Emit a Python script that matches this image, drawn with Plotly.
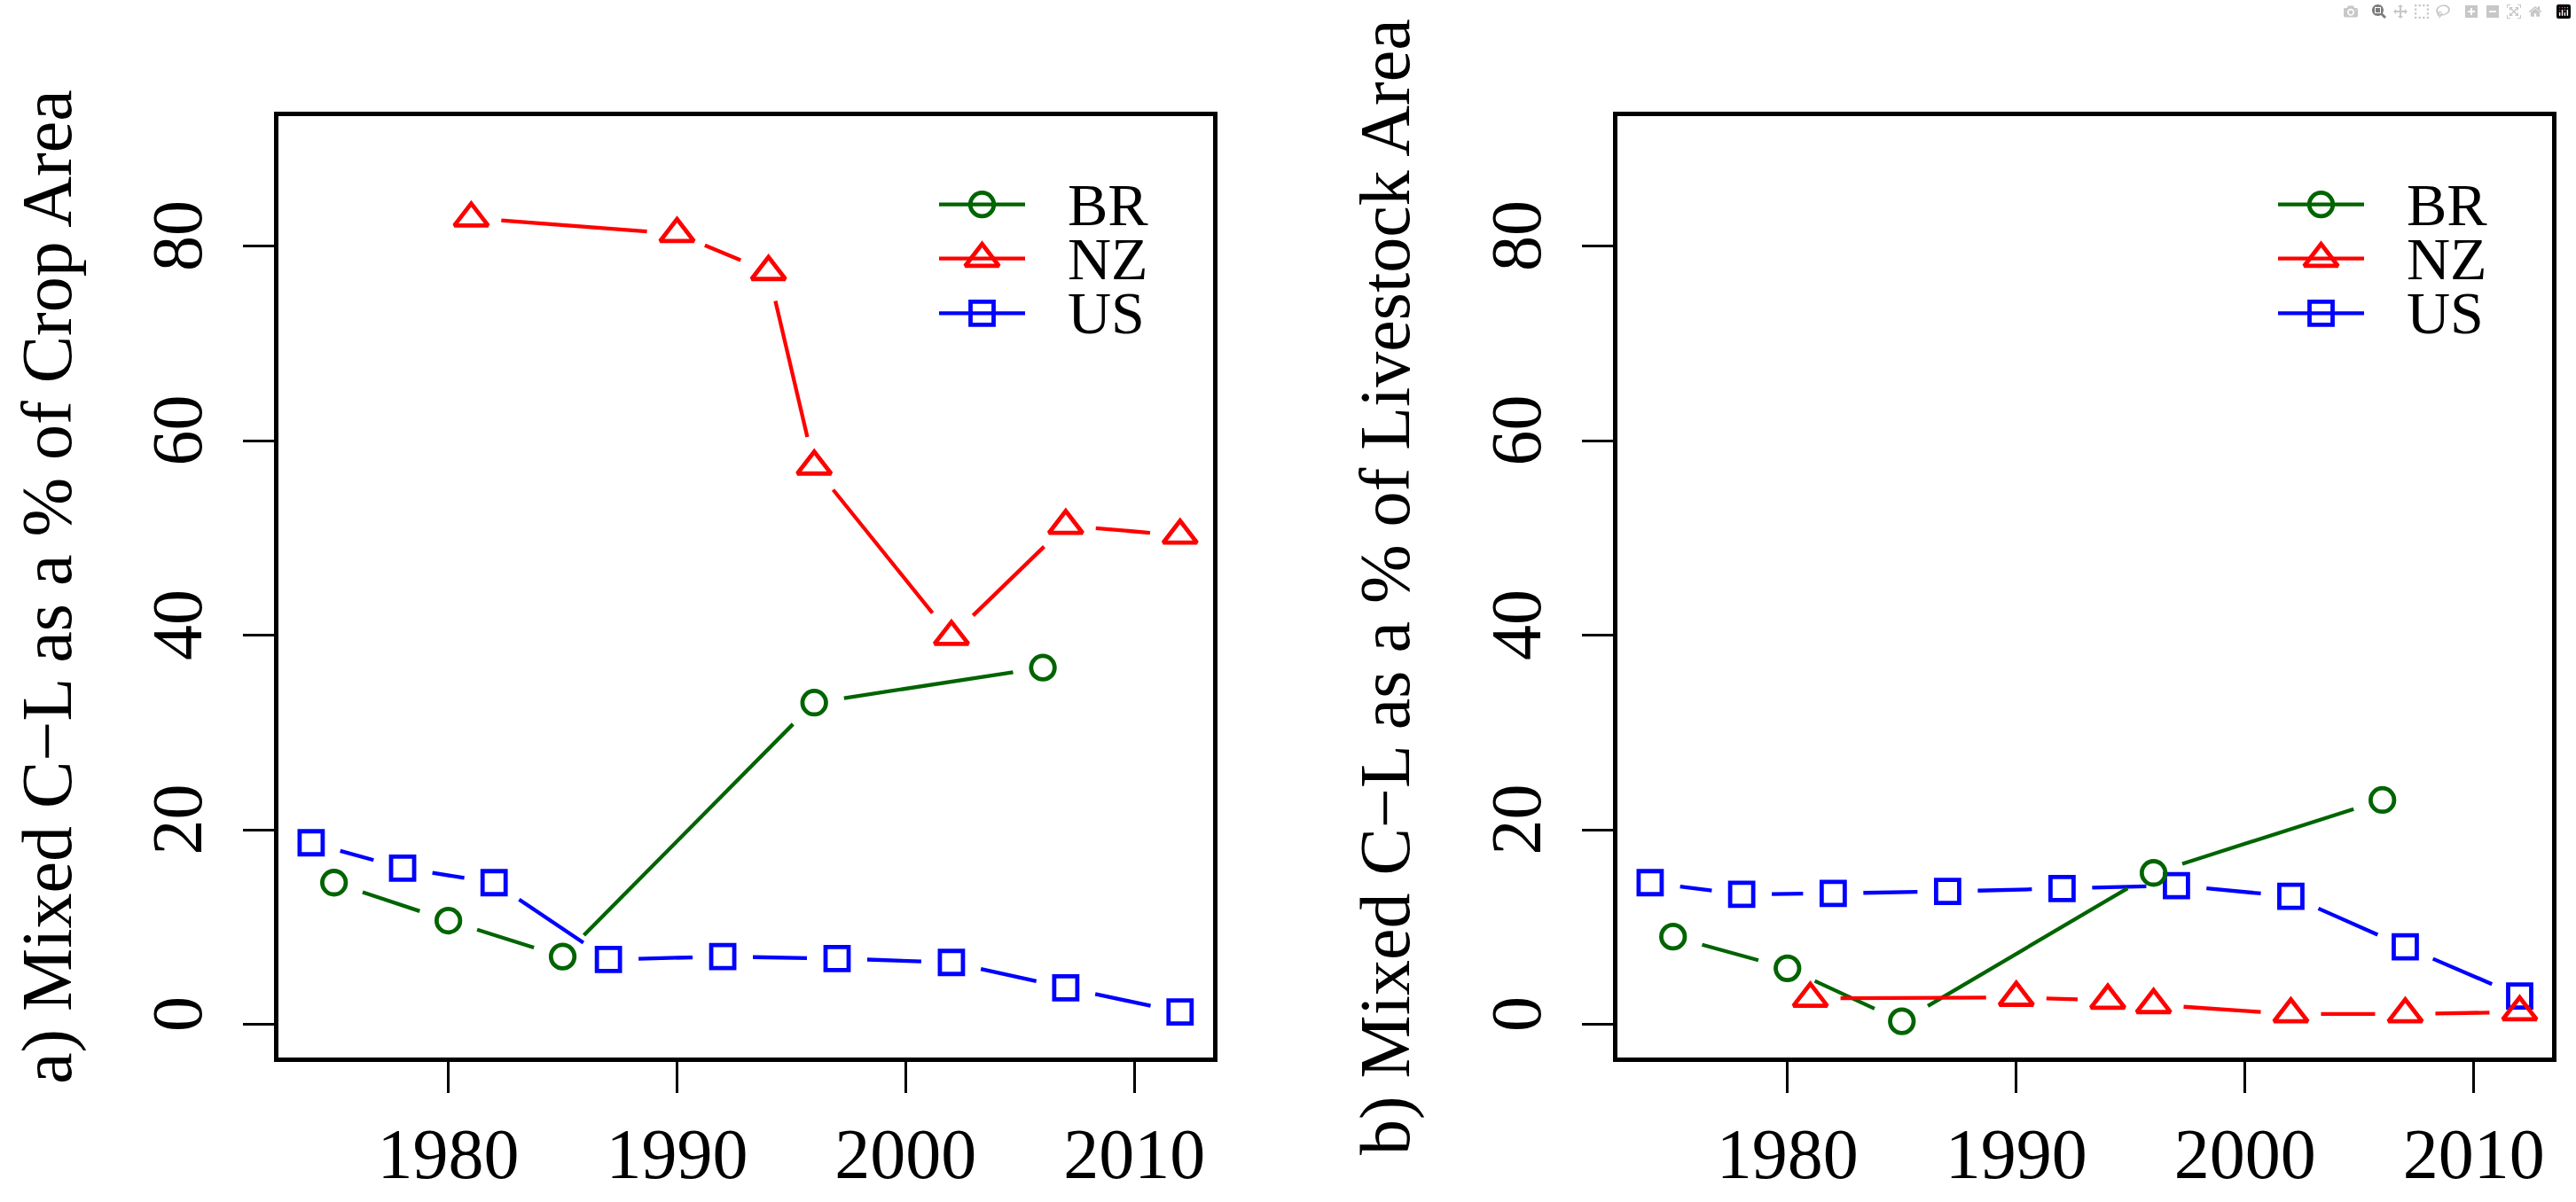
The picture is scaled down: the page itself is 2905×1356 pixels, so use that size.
import math
import plotly.graph_objects as go

# ---------------- data ----------------
SERIES = ["BR", "NZ", "US"]
YEARS_BR = [1975, 1980, 1985, 1996, 2006]
YEARS_NZ = [1981, 1990, 1994, 1996, 2002, 2007, 2012]
YEARS_US = [1974, 1978, 1982, 1987, 1992, 1997, 2002, 2007, 2012]

CROP_BR = [14.6, 10.7, 7.0, 33.1, 36.7]
CROP_NZ = [82.9, 81.3, 77.4, 57.4, 39.9, 51.3, 50.3]
CROP_US = [18.7, 16.1, 14.6, 6.7, 7.0, 6.8, 6.4, 3.8, 1.3]

LIVE_BR = [9.05, 5.8, 0.35, 15.6, 23.1]
LIVE_NZ = [2.7, 2.8, 2.5, 2.05, 1.1, 1.1, 1.3]
LIVE_US = [14.6, 13.4, 13.5, 13.7, 14.0, 14.3, 13.2, 8.0, 2.95]

X_TICKS = [1980, 1990, 2000, 2010]
Y_TICKS = [0, 20, 40, 60, 80]
Y_LIMITS = [0, 90]
Y_TITLES = ["a) Mixed C\u2212L as a % of Crop Area",
            "b) Mixed C\u2212L as a % of Livestock Area"]

# ---------------- style / layout ----------------
W, H = 2905, 1356
FONT = "Liberation Serif"
COLORS = {"BR": "#006400", "NZ": "#FF0000", "US": "#0000FF"}
SYMBOLS = {"BR": "circle-open", "NZ": "triangle-up-open", "US": "square-open"}
SIZES = {"BR": 26.5, "NZ": 33, "US": 26}
LINE_W = 4.3
MARK_W = 4.8
GAP = 34          # px gap between line ends and points (R type="b")
BOX_W = 4.7
# panel boxes (line centres) in pixels
PANEL_X = [(311.7, 1370.0), (1821.7, 2880.7)]
PANEL_Y = (128.7, 1195.5)
LEGEND_DX = [0, 1510]

all_years = YEARS_BR + YEARS_NZ + YEARS_US
xr0, xr1 = min(all_years), max(all_years)
xr = [xr0 - 0.04 * (xr1 - xr0), xr1 + 0.04 * (xr1 - xr0)]
yr = [Y_LIMITS[0] - 0.04 * (Y_LIMITS[1] - Y_LIMITS[0]),
      Y_LIMITS[1] + 0.04 * (Y_LIMITS[1] - Y_LIMITS[0])]

panels = [
    {"BR": (YEARS_BR, CROP_BR), "NZ": (YEARS_NZ, CROP_NZ), "US": (YEARS_US, CROP_US)},
    {"BR": (YEARS_BR, LIVE_BR), "NZ": (YEARS_NZ, LIVE_NZ), "US": (YEARS_US, LIVE_US)},
]

fig = go.Figure()
layout_axes = {}
h = BOX_W / 2.0
for i, pdata in enumerate(panels):
    xc0, xc1 = PANEL_X[i]
    yc0, yc1 = PANEL_Y
    pxx = (xc1 - xc0) / (xr[1] - xr[0])
    pxy = (yc1 - yc0) / (yr[1] - yr[0])
    xrange_in = [xr[0] + h / pxx, xr[1] - h / pxx]
    yrange_in = [yr[0] + h / pxy, yr[1] - h / pxy]
    xdom = [(xc0 + h) / W, (xc1 - h) / W]
    ydom = [1 - (yc1 - h) / H, 1 - (yc0 + h) / H]
    xn = "x" if i == 0 else "x%d" % (i + 1)
    yn = "y" if i == 0 else "y%d" % (i + 1)
    xk = "xaxis" if i == 0 else "xaxis%d" % (i + 1)
    yk = "yaxis" if i == 0 else "yaxis%d" % (i + 1)
    common = dict(showline=True, linewidth=BOX_W, linecolor="black", mirror=True,
                  ticks="outside", ticklen=35, tickwidth=3.3, tickcolor="black",
                  showgrid=False, zeroline=False,
                  tickfont=dict(family=FONT, size=80, color="black"))
    layout_axes[xk] = dict(domain=xdom, range=xrange_in, tickvals=X_TICKS,
                           anchor=yn, ticklabelstandoff=0, **common)
    layout_axes[yk] = dict(domain=ydom, range=yrange_in, tickvals=Y_TICKS,
                           anchor=xn, tickangle=-90, ticklabelstandoff=15, **common)

    for s in ["US", "BR", "NZ"]:
        xs, ys = pdata[s]
        lx, ly = [], []
        for k in range(len(xs) - 1):
            dx = (xs[k + 1] - xs[k]) * pxx
            dy = (ys[k + 1] - ys[k]) * pxy
            L = math.hypot(dx, dy)
            if L > 2 * GAP:
                t = GAP / L
                lx += [xs[k] + t * (xs[k + 1] - xs[k]), xs[k + 1] - t * (xs[k + 1] - xs[k]), None]
                ly += [ys[k] + t * (ys[k + 1] - ys[k]), ys[k + 1] - t * (ys[k + 1] - ys[k]), None]
        fig.add_trace(go.Scatter(x=lx, y=ly, mode="lines", xaxis=xn, yaxis=yn,
                                 line=dict(color=COLORS[s], width=LINE_W),
                                 showlegend=False, hoverinfo="skip"))
        fig.add_trace(go.Scatter(x=xs, y=ys, mode="markers", xaxis=xn, yaxis=yn, name=s,
                                 marker=dict(symbol=SYMBOLS[s], size=SIZES[s], color=COLORS[s],
                                             line=dict(width=MARK_W, color=COLORS[s])),
                                 showlegend=False))

# ---------------- manual legends (overlay pixel axis) ----------------
layout_axes["xaxis3"] = dict(domain=[0, 1], range=[0, W], visible=False, fixedrange=True, anchor="y3")
layout_axes["yaxis3"] = dict(domain=[0, 1], range=[H, 0], visible=False, fixedrange=True, anchor="x3")
LEG_LINE = (1059, 1156)
LEG_ROWS = [230.7, 291.7, 353.3]
LEG_TEXT_X = 1201.7
annotations = []
for i in range(2):
    off = LEGEND_DX[i]
    for s, ry in zip(SERIES, LEG_ROWS):
        fig.add_trace(go.Scatter(x=[LEG_LINE[0] + off, LEG_LINE[1] + off], y=[ry, ry],
                                 mode="lines", xaxis="x3", yaxis="y3",
                                 line=dict(color=COLORS[s], width=LINE_W),
                                 showlegend=False, hoverinfo="skip"))
        fig.add_trace(go.Scatter(x=[(LEG_LINE[0] + LEG_LINE[1]) / 2 + off], y=[ry],
                                 mode="markers", xaxis="x3", yaxis="y3",
                                 marker=dict(symbol=SYMBOLS[s], size=SIZES[s], color=COLORS[s],
                                             line=dict(width=MARK_W, color=COLORS[s])),
                                 showlegend=False, hoverinfo="skip"))
        annotations.append(dict(x=(LEG_TEXT_X + off) / W, y=1 - ry / H, xref="paper", yref="paper",
                                text=s, showarrow=False, xanchor="left", yanchor="middle",
                                font=dict(family=FONT, size=68, color="black")))

# y-axis titles
TITLE_X = [53, 1562]
for i in range(2):
    annotations.append(dict(x=TITLE_X[i] / W, y=1 - (PANEL_Y[0] + PANEL_Y[1]) / 2 / H,
                            xref="paper", yref="paper", text=Y_TITLES[i], textangle=-90,
                            showarrow=False, xanchor="center", yanchor="middle",
                            font=dict(family=FONT, size=80, color="black")))

fig.update_layout(width=W, height=H, margin=dict(l=0, r=0, t=0, b=0, pad=0),
                  paper_bgcolor="white", plot_bgcolor="rgba(0,0,0,0)", showlegend=False,
                  annotations=annotations, **layout_axes)

fig.write_html("out.html", post_script="document.body.style.margin='0';document.body.style.overflow='hidden';")
